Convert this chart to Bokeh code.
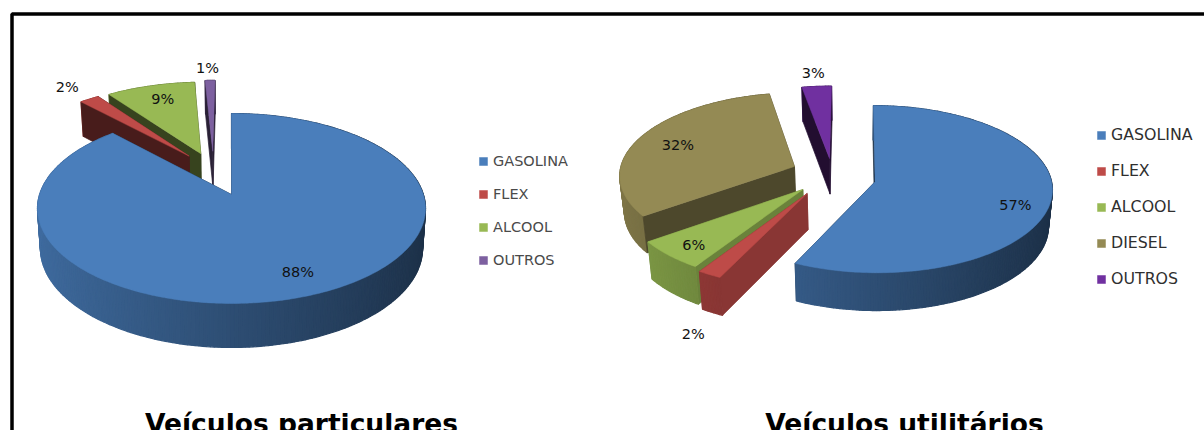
import math
from bokeh.plotting import figure
from bokeh.models import Range1d, Legend, LegendItem
from bokeh.core.properties import value
from bokeh.embed import file_html
from bokeh.resources import INLINE

# ---------- data ----------
labels_left = ["GASOLINA", "FLEX", "ALCOOL", "OUTROS"]
values_left = [88, 2, 9, 1]
labels_right = ["GASOLINA", "FLEX", "ALCOOL", "DIESEL", "OUTROS"]
values_right = [57, 2, 6, 32, 3]
title_left = "Veículos particulares"
title_right = "Veículos utilitários"

# ---------- styling / layout ----------
COL = {"GASOLINA": "#4a7ebb", "FLEX": "#be4b48", "ALCOOL": "#98b954", "DIESEL": "#948a54"}
OUTROS_LEFT, OUTROS_RIGHT = "#7d60a0", "#7030a0"
W, H = 1204, 430
FONT = "DejaVu Sans"

LEFT = dict(
    X0=231, Y0=194, A=191.9, B=92.9, k=0.1475, D=38.9, w=0.985,
    disp=[(0, 0), (-0.235, 0.44), (-0.171, 0.47), (-0.105, 0.5)],
    order=[2, 1, 3, 0],
    radial=[0.35, 0.38, 0.36, 0.33],
    label_r=[0.8, 1.23, 0.795, 1.21],
    nudge=[(3, 0), (-2, 0), (3, 0), (-2, 0)],
    outros=OUTROS_LEFT,
)
RIGHT = dict(
    X0=854, Y0=179, A=176, B=82.5, k=0.09, D=36, w=0.98,
    disp=[(0.117, -0.026), (-0.265, -0.168), (-0.29, -0.12), (-0.346, 0.16), (-0.145, 0.26)],
    order=[3, 4, 2, 1, 0],
    radial=[0.35, 0.72, 0.7, 0.52, 0.3],
    label_r=[0.8, 1.15, 0.845, 0.75, 1.213],
    nudge=[(0, 9), (0, 46), (3, 0), (0, 0), (-1, 0)],
    outros=OUTROS_RIGHT,
)


def hex_rgb(c):
    return tuple(int(c[i:i + 2], 16) for i in (1, 3, 5))


def shade(c, f):
    return "#%02x%02x%02x" % tuple(int(round(x * f)) for x in hex_rgb(c))


def project(g, u, v, lower=False):
    s = 1 / (1 + g["k"] * v)
    w = g["w"] if lower else 1
    return (g["X0"] + g["A"] * u * s * w,
            g["Y0"] - g["B"] * v * s * w + (g["D"] * s if lower else 0))


def disk(theta, r=1.0, d=(0, 0)):
    t = math.radians(theta)
    return r * math.sin(t) + d[0], r * math.cos(t) + d[1]


p = figure(width=W, height=H, x_range=Range1d(0, W), y_range=Range1d(H, 0),
           toolbar_location=None, output_backend="svg", min_border=0,
           outline_line_color=None, border_fill_color="white")
p.axis.visible = False
p.grid.visible = False

# frame (only top and left are inside the picture)
p.line([11.5, 11.5, W], [H, 13.5, 13.5], line_color="black", line_width=3.5)


def draw_pie(labels, vals, g, title, title_x, legend_font, legend_color, spacing, leg_xy):
    starts, acc = [], 0
    for v in vals:
        starts.append(acc)
        acc += v
    total = float(acc)
    tops = {}
    for i in g["order"]:
        name = labels[i]
        base = g["outros"] if name == "OUTROS" else COL[name]
        a0 = starts[i] / total * 360
        a1 = (starts[i] + vals[i]) / total * 360
        d = g["disp"][i]
        n = max(4, int(a1 - a0))
        angs = [a0 + (a1 - a0) * j / n for j in range(n + 1)]

        def outer():
            xs, ys, cs = [], [], []
            for a, b in zip(angs[:-1], angs[1:]):
                ua, va = disk(a, 1, d)
                ub, vb = disk(b, 1, d)
                pts = [project(g, ua, va), project(g, ub, vb),
                       project(g, ub, vb, True), project(g, ua, va, True)]
                xs.append([q[0] for q in pts])
                ys.append([q[1] for q in pts])
                t = max(0, min(1, (disk((a + b) / 2)[0] + 1) / 2))
                cs.append(shade(base, 0.85 - 0.47 * t))
            p.patches(xs, ys, fill_color=cs, line_color=cs, line_width=1.2)

        def radial():
            xs, ys = [], []
            for a in (a1, a0):
                ur, vr = disk(a, 1, d)
                pts = [project(g, d[0], d[1]), project(g, ur, vr),
                       project(g, ur, vr, True), project(g, d[0], d[1], True)]
                xs.append([q[0] for q in pts])
                ys.append([q[1] for q in pts])
            rc = shade(base, g["radial"][i])
            p.patches(xs, ys, fill_color=rc, line_color=rc, line_width=0.7)

        # whichever wall faces the viewer goes on top
        if disk((a0 + a1) / 2)[1] < 0:
            radial()
            outer()
        else:
            outer()
            radial()
        pts = [project(g, d[0], d[1])] + [project(g, *disk(a, 1, d)) for a in angs]
        tops[i] = p.patches([[q[0] for q in pts]], [[q[1] for q in pts]],
                            fill_color=base, line_color=base, line_width=0.5)
    # value labels
    tx, ty, tt = [], [], []
    for i, v in enumerate(vals):
        mid = (starts[i] + v / 2) / total * 360
        x, y = project(g, *disk(mid, g["label_r"][i], g["disp"][i]))
        tx.append(x + g["nudge"][i][0])
        ty.append(y + g["nudge"][i][1])
        tt.append(f"{v}%")
    p.text(tx, ty, text=tt, text_font=value(FONT), text_font_size="14.5px",
           text_align="center", text_baseline="middle", text_color="#111111")
    # title
    p.text([title_x], [423], text=[title], text_font=value(FONT), text_font_style="bold",
           text_font_size="26.5px", text_align="center", text_baseline="alphabetic",
           text_color="black")
    # legend
    leg = Legend(items=[LegendItem(label=labels[i], renderers=[tops[i]]) for i in range(len(labels))],
                 location=leg_xy, orientation="vertical", border_line_alpha=0,
                 background_fill_alpha=0, margin=0, padding=0, glyph_width=10, glyph_height=10,
                 label_standoff=5, label_height=18, spacing=spacing,
                 label_text_font=FONT, label_text_font_size=legend_font,
                 label_text_color=legend_color)
    p.add_layout(leg, "center")


draw_pie(labels_left, values_left, LEFT, title_left, 301, "14.5px", "#4a4a4a", 15, (478, H - 269))
draw_pie(labels_right, values_right, RIGHT, title_right, 904, "15.8px", "#2f2f2f", 17, (1096, H - 288))

open("out.html", "w").write(file_html(p, INLINE))
